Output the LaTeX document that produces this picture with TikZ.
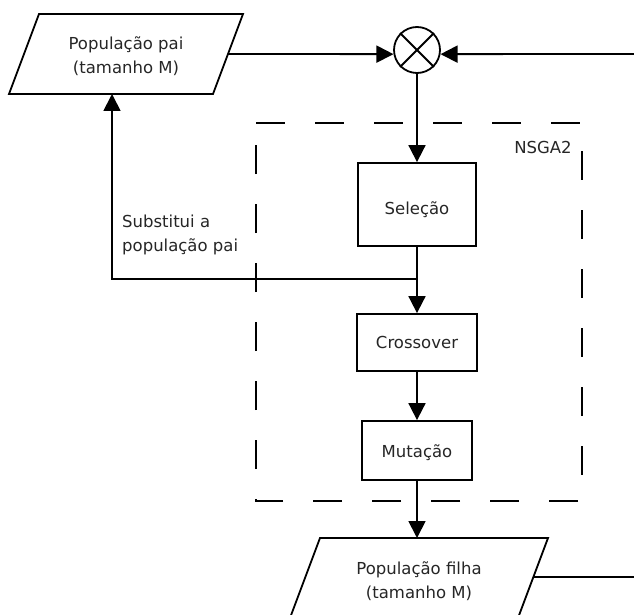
\documentclass[tikz,border=0pt]{standalone}
\usepackage{fontspec}
\setmainfont{DejaVu Sans}
\usetikzlibrary{arrows.meta,calc}

\tikzset{
  line/.style={line width=1.8pt, black},
  arr/.style={line, -{Triangle[length=17pt,width=17pt]}},
  txt/.style={font=\fontsize{16.5}{24}\selectfont, text=black!85, inner sep=0pt, align=center},
  procbox/.style={draw, line width=1.8pt, fill=white, inner sep=0pt,
    font=\fontsize{16.5}{24}\selectfont, text=black!85},
  iobox/.style={draw, line width=1.8pt, fill=white, line join=miter},
  dashbox/.style={line width=1.8pt, dash pattern=on 29pt off 30pt},
  mixer/.style={draw, circle, line width=1.8pt, fill=white, minimum size=46pt, inner sep=0pt}
}
% label whose baseline sits a given distance below the box centre
\newcommand{\lowlabel}[2]{\raisebox{-#1}[0pt][0pt]{#2}}

\begin{document}
\begin{tikzpicture}[x=1pt, y=-1pt]
  \useasboundingbox (0,0) rectangle (634,615);
  \fill[white] (0,0) rectangle (634,615);
  \clip (0,0) rectangle (634,615);

  % NSGA2 frame
  \draw[dashbox] (256,123) -- (582,123) -- (582,501) -- (256,501) -- cycle;
  \node[txt] (nsga) at (543,147) {NSGA2};

  % parent population (input parallelogram)
  \draw[iobox] (39,14) -- (243,14) -- (213,94) -- (9,94) -- cycle;
  \node[txt] (pai) at (126,56) {População pai\\(tamanho M)};
  \coordinate (paiR) at (228,54);
  \coordinate (paiB) at (112,94);

  % offspring population (output parallelogram)
  \draw[iobox] (320,538) -- (548,538) -- (518,618) -- (290,618) -- cycle;
  \node[txt] (filha) at (419,581) {População filha\\(tamanho M)};
  \coordinate (filhaT) at (417,538);
  \coordinate (filhaR) at (533.4,577);

  % combination point
  \node[mixer] (mix) at (417,50) {};
  \draw[line] (mix.45) -- (mix.225);
  \draw[line] (mix.135) -- (mix.315);

  % genetic operators
  \node[procbox, minimum width=118pt, minimum height=83pt] (sel) at (417,204.5) {\lowlabel{10pt}{Seleção}};
  \node[procbox, minimum width=120pt, minimum height=57pt] (cross) at (417,342.5) {\lowlabel{6pt}{Crossover}};
  \node[procbox, minimum width=110pt, minimum height=59pt] (mut) at (417,450.5) {\lowlabel{6.5pt}{Mutação}};

  % loose ends at the right border
  \coordinate (inR) at (634,54);
  \coordinate (outR) at (634,577);
  \coordinate (fbj) at (417,279);

  % connectors
  \draw[arr] (paiR) -- (mix.190);
  \draw[arr] (inR) -- (mix.-10);
  \draw[arr] (mix.south) -- (sel.north);
  \draw[arr] (sel.south) -- (cross.north);
  \draw[arr] (cross.south) -- (mut.north);
  \draw[arr] (mut.south) -- (filhaT);
  \draw[line] (filhaR) -- (outR);
  \draw[arr] (fbj) -| (paiB);

  \node[txt, align=left, anchor=west] (subst) at (122,235) {Substitui a\\população pai};
\end{tikzpicture}
\end{document}
